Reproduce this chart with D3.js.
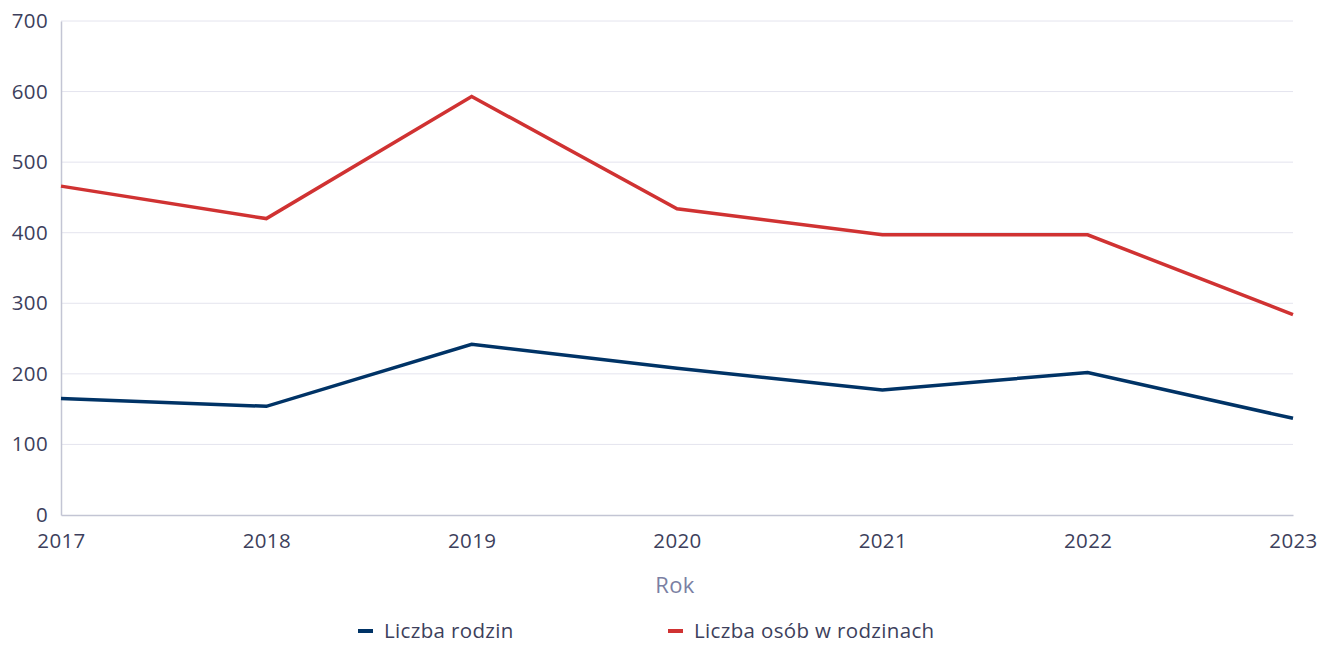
<!DOCTYPE html>
<html>
<head>
<meta charset="utf-8">
<script src="https://cdn.jsdelivr.net/npm/d3@7"></script>
<style>
  body { margin: 0; background: #fff; }
  text { font-family: "Open Sans", "Noto Sans", sans-serif; letter-spacing: 0.35px; }
</style>
</head>
<body>
<div id="chart"></div>
<script>
const years = ["2017", "2018", "2019", "2020", "2021", "2022", "2023"];
const rodziny = [165, 154, 242, 208, 177, 202, 137];
const osoby = [466, 420, 593, 434, 397, 397, 284];
const yTicks = [0, 100, 200, 300, 400, 500, 600, 700];
const seriesNames = ["Liczba rodzin", "Liczba osób w rodzinach"];
const seriesColors = ["#003366", "#d03232"];

const width = 1327;
const height = 645;
const margin = { top: 21, right: 34, bottom: 130, left: 61 };

const svg = d3.select("#chart")
  .append("svg")
  .attr("width", width)
  .attr("height", height);

const x = d3.scalePoint()
  .domain(years)
  .range([margin.left, width - margin.right]);

const y = d3.scaleLinear()
  .domain([0, 700])
  .range([height - margin.bottom, margin.top]);

// grid lines
svg.append("g")
  .selectAll("line")
  .data(yTicks.filter(d => d > 0))
  .join("line")
  .attr("x1", margin.left)
  .attr("x2", width - margin.right)
  .attr("y1", d => y(d))
  .attr("y2", d => y(d))
  .attr("stroke", "#e4e4ee")
  .attr("stroke-width", 1);

// y axis
const yAxis = svg.append("g")
  .attr("transform", `translate(${margin.left},0)`)
  .call(d3.axisLeft(y).tickValues(yTicks).tickSize(0).tickPadding(13));
yAxis.select(".domain").attr("stroke", "#c3c5d4").attr("stroke-width", 1.5);
yAxis.selectAll("text")
  .attr("font-size", 20.5)
  .attr("fill", "#3d3f5c");

// x axis
const xAxis = svg.append("g")
  .attr("transform", `translate(0,${y(0)})`)
  .call(d3.axisBottom(x).tickSize(0).tickPadding(18));
xAxis.select(".domain").attr("stroke", "#c3c5d4").attr("stroke-width", 1.5);
xAxis.selectAll("text")
  .attr("font-size", 20.5)
  .attr("fill", "#3d3f5c");

// axis title
svg.append("text")
  .attr("x", 675)
  .attr("y", 593)
  .attr("text-anchor", "middle")
  .attr("font-size", 22)
  .attr("fill", "#7b7fa3")
  .text("Rok");

// lines
const line = d3.line()
  .x((d, i) => x(years[i]))
  .y(d => y(d));

[rodziny, osoby].forEach((s, i) => {
  svg.append("path")
    .datum(s)
    .attr("fill", "none")
    .attr("stroke", seriesColors[i])
    .attr("stroke-width", 3.5)
    .attr("stroke-linejoin", "miter")
    .attr("d", line);
});

// legend
const legendX = [358, 668];
const legend = svg.append("g")
  .selectAll("g")
  .data(seriesNames)
  .join("g")
  .attr("transform", (d, i) => `translate(${legendX[i]}, 631)`);

legend.append("line")
  .attr("x1", 0)
  .attr("x2", 15)
  .attr("stroke", (d, i) => seriesColors[i])
  .attr("stroke-width", 4);

legend.append("text")
  .attr("x", 26)
  .attr("dy", "0.36em")
  .attr("font-size", 20.5)
  .attr("fill", "#3d3f5c")
  .text(d => d);
</script>
</body>
</html>
